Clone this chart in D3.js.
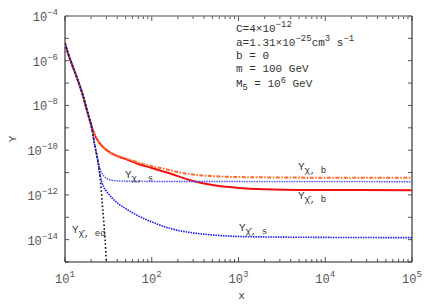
<!DOCTYPE html>
<html>
<head>
<meta charset="utf-8">
<script src="https://cdn.jsdelivr.net/npm/d3@7/dist/d3.min.js"></script>
<style>
  body { margin: 0; background: #fff; }
  text { font-family: "Liberation Mono", "Courier New", monospace; }
</style>
</head>
<body>
<div id="chart"></div>
<script>
// values
var commonX = [10, 11, 12, 14, 16, 18, 20];
var commonY = [6.0e-6, 1.8e-6, 7.1e-7, 1.4e-7, 3.0e-8, 5.6e-9, 1.35e-9];

var eqX = [22, 24, 25, 27, 28, 29, 30, 31];
var eqY = [1.7e-10, 3.0e-11, 1.05e-11, 3.5e-13, 6.2e-14, 9.5e-15, 1.0e-15, 2.5e-16];

var chiBarBX = [22, 25, 30, 40, 50, 70, 100, 150, 200, 300, 500, 1000, 2000, 5000, 1e4, 1e5];
var chiBarBY = [4.8e-10, 2.1e-10, 1.02e-10, 5.5e-11, 4.0e-11, 2.4e-11, 1.6e-11, 1.0e-11, 6.9e-12, 4.2e-12, 2.75e-12, 2.05e-12, 1.78e-12, 1.66e-12, 1.66e-12, 1.62e-12];

var chiBX = [22, 25, 30, 40, 50, 70, 100, 150, 200, 300, 500, 1000, 1e4, 1e5];
var chiBY = [4.8e-10, 2.1e-10, 1.02e-10, 5.5e-11, 4.3e-11, 2.8e-11, 1.95e-11, 1.38e-11, 1.05e-11, 8.1e-12, 6.9e-12, 6.3e-12, 5.9e-12, 5.9e-12];

var chiSX = [22, 24, 25, 27, 30, 35, 40, 50, 100, 1e5];
var chiSY = [1.8e-10, 3.4e-11, 1.78e-11, 8.5e-12, 5.6e-12, 4.5e-12, 4.2e-12, 4.1e-12, 4.0e-12, 3.9e-12];

var chiBarSX = [22, 24, 25, 28, 30, 35, 40, 50, 70, 100, 150, 200, 300, 500, 1000, 2000, 1e4, 1e5];
var chiBarSY = [1.7e-10, 3.0e-11, 1.05e-11, 2.2e-12, 1.48e-12, 7.2e-13, 4.4e-13, 2.45e-13, 1.15e-13, 6.2e-14, 3.5e-14, 2.6e-14, 2.0e-14, 1.62e-14, 1.38e-14, 1.32e-14, 1.26e-14, 1.23e-14];

var xTickExp = [1, 2, 3, 4, 5];
var yTickExp = [-4, -6, -8, -10, -12, -14];

function pts(xa, ya) {
  return xa.map(function(d, i) { return {x: d, y: ya[i]}; });
}
function withCommon(xa, ya) {
  return pts(commonX.concat(xa), commonY.concat(ya));
}

var W = 436, H = 305;
var margin = {top: 16, right: 24, bottom: 43, left: 65},
    width = W - margin.left - margin.right,
    height = H - margin.top - margin.bottom;

var svg = d3.select("#chart")
  .append("svg")
    .attr("width", W)
    .attr("height", H);

var g = svg.append("g")
  .attr("transform", "translate(" + margin.left + "," + margin.top + ")");

var x = d3.scaleLog().domain([10, 1e5]).range([0, width]);
var y = d3.scaleLog().domain([1e-15, 1e-4]).range([height, 0]);

g.append("clipPath").attr("id", "clip")
  .append("rect").attr("width", width).attr("height", height);

// ticks (inward, on all four sides)
var xMinor = [];
for (var e = 1; e < 5; e++) for (var k = 2; k <= 9; k++) xMinor.push(k * Math.pow(10, e));
var xMajor = xTickExp.map(function(p) { return Math.pow(10, p); });
var yMajor = d3.range(-15, -3).map(function(p) { return Math.pow(10, p); });

var tickCol = "#555";
xMajor.forEach(function(v) {
  g.append("line").attr("x1", x(v)).attr("x2", x(v)).attr("y1", height).attr("y2", height - 5).attr("stroke", tickCol);
  g.append("line").attr("x1", x(v)).attr("x2", x(v)).attr("y1", 0).attr("y2", 5).attr("stroke", tickCol);
});
xMinor.forEach(function(v) {
  g.append("line").attr("x1", x(v)).attr("x2", x(v)).attr("y1", height).attr("y2", height - 3).attr("stroke", tickCol);
  g.append("line").attr("x1", x(v)).attr("x2", x(v)).attr("y1", 0).attr("y2", 3).attr("stroke", tickCol);
});
yMajor.forEach(function(v) {
  g.append("line").attr("x1", 0).attr("x2", 4).attr("y1", y(v)).attr("y2", y(v)).attr("stroke", tickCol);
  g.append("line").attr("x1", width).attr("x2", width - 4).attr("y1", y(v)).attr("y2", y(v)).attr("stroke", tickCol);
});

// frame
g.append("line").attr("x1", 0).attr("x2", width).attr("y1", 0).attr("y2", 0).attr("stroke", "#888").attr("stroke-width", 1.3);
g.append("line").attr("x1", 0).attr("x2", width).attr("y1", height).attr("y2", height).attr("stroke", "#222").attr("stroke-width", 1.2);
g.append("line").attr("x1", 0).attr("x2", 0).attr("y1", 0).attr("y2", height).attr("stroke", "#333").attr("stroke-width", 1.2);
g.append("line").attr("x1", width).attr("x2", width).attr("y1", 0).attr("y2", height).attr("stroke", "#333").attr("stroke-width", 1.2);

// tick labels
var labCol = "#555";
yTickExp.forEach(function(p) {
  var t = g.append("text")
    .attr("x", -7).attr("y", y(Math.pow(10, p)) + 5)
    .attr("text-anchor", "end")
    .attr("fill", labCol)
    .style("font-size", "12px");
  t.append("tspan").text("10");
  t.append("tspan").attr("dy", -6).style("font-size", "9px").text(String(p).replace("-", "\u2212"));
});
xTickExp.forEach(function(p) {
  var t = g.append("text")
    .attr("x", x(Math.pow(10, p)) - 10).attr("y", height + 21)
    .attr("fill", labCol)
    .style("font-size", "12px");
  t.append("tspan").text("10");
  t.append("tspan").attr("dy", -6).style("font-size", "9px").text(p);
});

// axis titles
svg.append("text")
  .attr("transform", "translate(16," + (margin.top + 123) + ") rotate(-90)")
  .attr("text-anchor", "middle").attr("fill", "#444")
  .style("font-size", "11px").text("Y");
svg.append("text")
  .attr("x", margin.left + width / 2 + 3).attr("y", 299)
  .attr("text-anchor", "middle").attr("fill", "#444")
  .style("font-size", "11px").text("x");

// curves
var line = d3.line()
  .x(function(d) { return x(d.x); })
  .y(function(d) { return y(d.y); })
  .curve(d3.curveMonotoneX);

var plot = g.append("g").attr("clip-path", "url(#clip)");

plot.append("path").datum(withCommon(chiBarBX, chiBarBY))
  .attr("fill", "none").attr("stroke", "#f01010").attr("stroke-width", 2)
  .attr("d", line);
plot.append("path").datum(withCommon(chiBX, chiBY))
  .attr("fill", "none").attr("stroke", "#ff6a2a").attr("stroke-width", 2)
  .attr("stroke-dasharray", "4,1.5,1.5,1.5")
  .attr("d", line);
plot.append("path").datum(withCommon(chiBarSX, chiBarSY))
  .attr("fill", "none").attr("stroke", "#1a1aee").attr("stroke-width", 1.6)
  .attr("stroke-dasharray", "1.5,1")
  .attr("d", line);
plot.append("path").datum(withCommon(chiSX, chiSY))
  .attr("fill", "none").attr("stroke", "#4a4af5").attr("stroke-width", 1.4)
  .attr("stroke-dasharray", "1.5,1")
  .attr("d", line);
plot.append("path").datum(withCommon(eqX, eqY))
  .attr("fill", "none").attr("stroke", "#111").attr("stroke-width", 1.6)
  .attr("stroke-dasharray", "1.6,2.2")
  .attr("d", line);

// curve labels
function curveLabel(px, py, sub, bar) {
  var t = svg.append("text").attr("x", px).attr("y", py).attr("fill", "#333").style("font-size", "11px");
  t.append("tspan").text("Y");
  t.append("tspan").attr("dy", 3).style("font-size", "9px").text(bar ? "\u03c7\u0304" : "\u03c7");
  t.append("tspan").style("font-size", "9px").text(", " + sub);
}
curveLabel(298, 170, "b", false);
curveLabel(298, 199, "b", true);
curveLabel(125, 178, "s", false);
curveLabel(239, 231, "s", true);
curveLabel(72, 233, "eq", true);

// parameter box
var info = svg.append("g").attr("fill", "#333").style("font-size", "11px");
var l1 = info.append("text").attr("x", 236).attr("y", 32);
l1.append("tspan").text("C=4\u00d710");
l1.append("tspan").attr("dy", -5).style("font-size", "9px").text("\u221212");
var l2 = info.append("text").attr("x", 236).attr("y", 46);
l2.append("tspan").text("a=1.31\u00d710");
l2.append("tspan").attr("dy", -5).style("font-size", "9px").text("\u221225");
l2.append("tspan").attr("dy", 5).text("cm");
l2.append("tspan").attr("dy", -5).style("font-size", "9px").text("3");
l2.append("tspan").attr("dy", 5).text(" s");
l2.append("tspan").attr("dy", -5).style("font-size", "9px").text("\u22121");
info.append("text").attr("x", 236).attr("y", 59).text("b = 0");
info.append("text").attr("x", 236).attr("y", 72).text("m = 100 GeV");
var l5 = info.append("text").attr("x", 236).attr("y", 86.5);
l5.append("tspan").text("M");
l5.append("tspan").attr("dy", 3).style("font-size", "8.5px").text("5");
l5.append("tspan").attr("dy", -3).text(" = 10");
l5.append("tspan").attr("dy", -4).style("font-size", "8.5px").text("6");
l5.append("tspan").attr("dy", 4).text(" GeV");
</script>
</body>
</html>
